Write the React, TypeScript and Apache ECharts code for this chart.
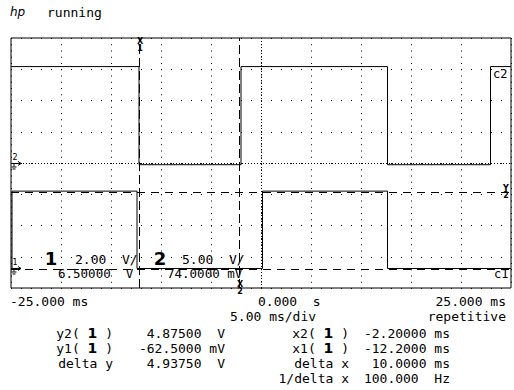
import React, { useEffect, useRef } from "react";
import * as echarts from "echarts";

// ---- time base (ms) ----
const timeMin = -25;
const timeMax = 25;
const msPerDiv = 5;

// ---- vertical settings ----
const ch1VoltsPerDiv = 2;
const ch1ScreenCentre = 6.75; // ch1 volts at screen centre as drawn on this display
const ch2VoltsPerDiv = 5;
const ch2Offset = 0.074;

// ---- channel 1 trace (time ms / volts) ----
const ch1Times = [-25, -24.9, -24.9, -12.4, -12.4, 0.15, 0.15, 12.65, 12.65, 25];
const ch1Volts = [0, 0, 4.95, 4.95, 0, 0, 4.95, 4.95, 0, 0];

// ---- channel 2 trace (time ms / volts) ----
const ch2Times = [-25, -12.2, -12.2, -2.0, -2.0, 12.65, 12.65, 22.95, 22.95, 25];
const ch2Volts = [15.5, 15.5, -0.2, -0.2, 15.5, 15.5, -0.2, -0.2, 15.5, 15.5];

// ---- cursors ----
const cursorXms = [-12.2, -2.2]; // x1, x2
const cursorYVolts = [-0.0625, 4.875]; // y1, y2 (channel 1)

// ---- texts ----
const headerTexts = ["hp", "running"];
const timeLabels = ["-25.000 ms", "0.000  s", "25.000 ms"];
const timebaseLabel = "5.00 ms/div";
const modeLabel = "repetitive";
const ch1ScaleTexts = ["1", "2.00  V/", "6.50000  V"];
const ch2ScaleTexts = ["2", "5.00  V/", "74.0000 mV"];
const leftReadLabels = ["y2( {b|1} )", "y1( {b|1} )", "delta y"];
const leftReadValues = ["4.87500  V", "-62.5000 mV", "4.93750  V"];
const rightReadLabels = ["x2( {b|1} )", "x1( {b|1} )", "delta x", "1/delta x"];
const rightReadValues = ["-2.20000 ms", "-12.2000 ms", "10.0000 ms", "100.000  Hz"];
const traceTags = ["c2", "c1"];

const MONO = "'DejaVu Sans Mono', monospace";
const SANS = "'DejaVu Sans', sans-serif";

function txt(x: number, y: number, text: string, extra: any = {}) {
  const align = extra.align || "left";
  const size = extra.size || 13;
  const style: any = {
    text,
    x: 0,
    y: 0,
    fill: "#000",
    fontSize: size,
    fontFamily: extra.family || MONO,
    fontWeight: extra.weight || "normal",
    fontStyle: extra.fontStyle || "normal",
    align,
    textAlign: align,
    verticalAlign: extra.valign || "middle",
    textVerticalAlign: extra.valign || "middle",
  };
  if (extra.lineHeight) style.lineHeight = extra.lineHeight;
  if (extra.rich) style.rich = extra.rich;
  return { type: "text", x, y, z: 10, silent: true, style };
}

function line(x1: number, y1: number, x2: number, y2: number) {
  return {
    type: "line",
    silent: true,
    z: 10,
    shape: { x1, y1, x2, y2 },
    style: { stroke: "#000", lineWidth: 1 },
  };
}

export default function App() {
  const ref = useRef<HTMLDivElement>(null);
  useEffect(() => {
    document.body.style.margin = "0";
    const chart = echarts.init(ref.current!, null, { renderer: "svg" });
    const ch1Div = (v: number) => (v - ch1ScreenCentre) / ch1VoltsPerDiv;
    const ch2Div = (v: number) => (v - ch2Offset) / ch2VoltsPerDiv;
    const ch1Data = ch1Times.map((t, i) => [t, ch1Div(ch1Volts[i])]);
    const ch2Data = ch2Times.map((t, i) => [t, ch2Div(ch2Volts[i])]);

    chart.setOption({
      animation: false,
      backgroundColor: "#fff",
      grid: {
        left: 11,
        top: 38,
        width: 500,
        height: 250,
        show: true,
        borderColor: "#000",
        borderWidth: 1,
        backgroundColor: "transparent",
      },
      xAxis: {
        type: "value",
        min: timeMin,
        max: timeMax,
        interval: msPerDiv,
        axisLine: { show: false },
        axisTick: { show: false },
        axisLabel: { show: false },
        splitLine: { show: true, lineStyle: { color: "#000", width: 1, type: [1, 5.25] } },
      },
      yAxis: {
        type: "value",
        min: -4,
        max: 4,
        interval: 1,
        axisLine: { show: false },
        axisTick: { show: false },
        axisLabel: { show: false },
        splitLine: { show: true, lineStyle: { color: "#000", width: 1, type: [1, 9] } },
      },
      series: [
        {
          type: "line",
          data: ch2Data,
          symbol: "none",
          lineStyle: { color: "#000", width: 1 },
          z: 3,
          markLine: {
            silent: true,
            symbol: "none",
            label: { show: false },
            lineStyle: { color: "#000", width: 1, type: [1, 2] },
            data: [{ xAxis: 0 }, { yAxis: 0 }],
          },
        },
        {
          type: "line",
          data: ch1Data,
          symbol: "none",
          lineStyle: { color: "#000", width: 1 },
          z: 3,
          markLine: {
            silent: true,
            symbol: "none",
            label: { show: false },
            lineStyle: { color: "#000", width: 1 },
            data: [
              { xAxis: cursorXms[0], lineStyle: { type: [9, 4] } },
              { xAxis: cursorXms[1], lineStyle: { type: [9, 4] } },
              { yAxis: ch1Div(cursorYVolts[0]), lineStyle: { type: [8, 6] } },
              { yAxis: ch1Div(cursorYVolts[1]), lineStyle: { type: [8, 6] } },
            ],
          },
        },
      ],
    });

    const p = (t: number, d: number) => chart.convertToPixel({ gridIndex: 0 }, [t, d]) as number[];
    const x1 = p(cursorXms[0], 0)[0];
    const x2 = p(cursorXms[1], 0)[0];
    const y2 = p(0, ch1Div(cursorYVolts[1]))[1];
    const g2 = p(0, ch2Div(0))[1];
    const g1 = p(0, ch1Div(0))[1];
    const right = p(timeMax, 0)[0];
    const ch2High = p(0, ch2Div(ch2Volts[0]))[1];
    const ch1Low = p(0, ch1Div(ch1Volts[0]))[1];

    const groundMark = (label: string, gy: number) => [
      txt(15, gy - 6, label, { size: 8, family: SANS, align: "center" }),
      line(11, gy, 21, gy),
      line(18, gy - 2, 21, gy),
      line(18, gy + 2, 21, gy),
      line(14, gy, 14, gy + 3),
      line(11.5, gy + 3.5, 16.5, gy + 3.5),
      line(12.5, gy + 5.5, 15.5, gy + 5.5),
    ];

    const cursorTag = (cx: number, cy: number, a: string, b: string) => [
      txt(cx, cy, a, { size: 8, weight: "bold", family: SANS, align: "center" }),
      txt(cx, cy + 7.5, b, { size: 8, weight: "bold", family: SANS, align: "center" }),
    ];

    const rich = { b: { fontWeight: "bold", fontSize: 14, fontFamily: SANS } };

    const graphic: any[] = [
      txt(10, 12, headerTexts[0], { family: SANS, fontStyle: "italic", size: 12 }),
      txt(47, 12, headerTexts[1]),
      txt(10, 301, timeLabels[0]),
      txt(258, 301, timeLabels[1]),
      txt(506, 301, timeLabels[2], { align: "right" }),
      txt(230, 316, timebaseLabel),
      txt(506, 316, modeLabel, { align: "right" }),
      // channel scale labels
      txt(51, 258, ch1ScaleTexts[0], { size: 18, weight: "bold", family: SANS, align: "center" }),
      txt(75, 259, ch1ScaleTexts[1]),
      txt(58, 273, ch1ScaleTexts[2], { size: 12.5 }),
      txt(160, 258, ch2ScaleTexts[0], { size: 18, weight: "bold", family: SANS, align: "center" }),
      txt(182, 259, ch2ScaleTexts[1]),
      txt(167, 273, ch2ScaleTexts[2], { size: 12.5 }),
      // trace tags
      txt(493, ch2High + 7, traceTags[0], { size: 12 }),
      txt(494, ch1Low + 6, traceTags[1], { size: 12 }),
      // cursor tags
      ...cursorTag(x1 + 1, 41, "X", "1"),
      ...cursorTag(x2 + 1, 284, "X", "2"),
      ...cursorTag(right - 5, y2 - 4, "Y", "2"),
      ...groundMark("2", g2),
      ...groundMark("1", g1),
    ];
    leftReadLabels.forEach((s, i) => {
      const y = 333 + i * 15.3;
      graphic.push(txt(113, y, s, { align: "right", rich }));
      graphic.push(txt(225, y, leftReadValues[i], { align: "right" }));
    });
    rightReadLabels.forEach((s, i) => {
      const y = 333 + i * 15.3;
      graphic.push(txt(349, y, s, { align: "right", rich }));
      graphic.push(txt(450, y, rightReadValues[i], { align: "right" }));
    });

    chart.setOption({ graphic });

    return () => chart.dispose();
  }, []);
  return (
    <div
      ref={ref}
      style={{ position: "absolute", left: 0, top: 0, width: 514, height: 390, background: "#fff" }}
    />
  );
}
